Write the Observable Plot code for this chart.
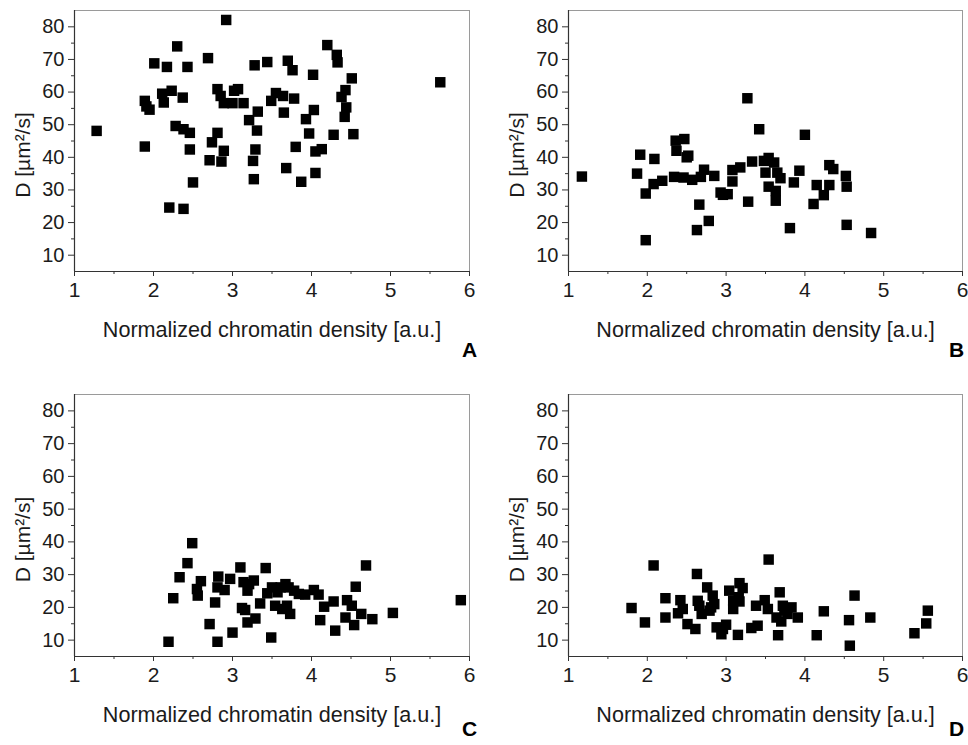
<!DOCTYPE html>
<html><head><meta charset="utf-8">
<script src="https://cdn.jsdelivr.net/npm/d3@7"></script>
<script src="https://cdn.jsdelivr.net/npm/@observablehq/plot@0.6"></script>
<style>
html,body{margin:0;padding:0;background:#fff;overflow:hidden;}
#fig{position:relative;width:968px;height:745px;overflow:hidden;background:#fff;}
.panel{position:absolute;}
</style></head><body><div id="fig"></div>
<script>
// [normalized chromatin density, D (µm²/s)]
const panelA = [
[1.28,48.1],[2.92,82.1],[2.30,74.0],[2.69,70.4],[2.01,68.8],[2.17,67.7],[2.43,67.7],
[1.89,57.3],[1.91,55.6],[1.95,54.6],[1.89,43.3],
[2.11,59.5],[2.13,56.8],[2.23,60.4],[2.37,58.3],
[2.28,49.6],[2.38,48.6],[2.46,47.5],[2.46,42.4],[2.50,32.3],[2.20,24.6],[2.38,24.2],
[2.81,60.9],[2.85,58.8],[2.89,56.6],[3.00,56.6],[3.02,60.4],[3.07,60.9],[3.14,56.6],
[2.71,39.1],[2.74,44.6],[2.81,47.5],[2.89,42.0],[2.86,38.7],
[3.21,51.4],[3.32,54.0],[3.31,48.2],[3.29,42.4],[3.26,38.9],[3.27,33.3],
[3.28,68.2],[3.44,69.2],[3.49,57.3],[3.55,59.7],[3.64,58.8],[3.65,53.7],[3.78,58.0],
[3.70,69.6],[3.76,66.7],[3.68,36.7],[3.80,43.2],[3.87,32.5],
[3.93,51.7],[3.97,47.3],[4.03,54.5],[4.02,65.3],[4.05,41.8],[4.13,42.5],[4.05,35.2],
[4.20,74.4],[4.32,71.4],[4.33,69.1],[4.28,46.9],
[4.51,64.2],[4.43,60.6],[4.38,58.5],[4.44,55.3],[4.42,52.4],[4.53,47.1],
[5.63,63.0]
];
const panelB = [
[1.17,34.1],[1.87,35.0],[1.91,40.8],[1.98,28.9],[1.98,14.6],[2.09,39.5],[2.08,31.8],[2.19,32.8],
[2.34,34.0],[2.46,33.8],[2.57,33.1],[2.68,34.0],[2.72,36.2],[2.85,34.3],
[2.36,45.1],[2.47,45.6],[2.37,42.0],[2.52,40.5],[2.50,40.0],
[2.66,25.5],[2.78,20.5],[2.63,17.7],
[2.93,29.2],[3.02,28.7],[2.96,28.5],[3.08,36.1],[3.18,36.9],[3.08,32.6],[3.28,26.4],[3.27,58.1],[3.42,48.6],[3.33,38.7],
[3.48,38.9],[3.54,39.8],[3.61,38.4],[3.50,35.3],[3.65,35.3],[3.69,33.6],[3.54,31.0],[3.63,29.7],[3.63,26.7],
[4.00,46.9],[3.93,35.9],[3.86,32.3],[3.81,18.3],
[4.31,37.6],[4.36,36.4],[4.15,31.5],[4.31,31.5],[4.24,28.4],[4.11,25.7],[4.52,34.3],[4.53,31.0],[4.53,19.3],[4.84,16.8]
];
const panelC = [
[2.19,9.5],[2.25,22.8],[2.33,29.2],[2.43,33.5],[2.49,39.6],[2.55,25.6],[2.56,23.6],[2.60,28.0],
[2.71,14.9],[2.78,21.5],[2.81,26.1],[2.82,29.4],[2.90,25.3],[2.97,28.7],[2.81,9.5],[3.00,12.3],
[3.10,32.2],[3.14,27.7],[3.21,27.1],[3.19,25.1],[3.27,28.2],[3.12,19.8],[3.16,19.2],[3.19,15.4],
[3.29,16.6],[3.35,21.2],[3.42,32.0],[3.44,24.3],[3.50,26.1],[3.57,24.6],[3.61,26.1],[3.49,10.8],
[3.54,20.5],[3.63,19.5],[3.67,27.1],[3.71,26.1],[3.78,25.1],[3.69,20.5],[3.73,18.0],
[3.84,24.1],[3.92,23.9],[4.03,25.3],[4.09,23.9],[4.16,20.2],[4.11,16.1],[4.28,21.8],[4.30,12.9],
[4.45,22.2],[4.51,20.5],[4.43,16.9],[4.54,14.6],[4.56,26.3],[4.63,18.0],[4.69,32.8],[4.77,16.4],
[5.03,18.3],[5.89,22.2]
];
const panelD = [
[1.80,19.8],[1.97,15.4],[2.08,32.8],[2.23,22.8],[2.23,16.9],[2.42,22.2],[2.45,19.5],[2.39,18.2],
[2.51,14.9],[2.61,13.4],[2.63,30.2],[2.64,22.0],[2.66,20.5],[2.69,18.0],
[2.76,26.1],[2.83,23.6],[2.85,21.0],[2.79,19.0],[2.81,20.0],
[2.88,13.9],[2.96,13.4],[3.00,14.7],[2.94,11.8],
[3.04,25.1],[3.09,22.0],[3.16,23.1],[3.09,19.5],[3.17,27.4],[3.21,25.9],[3.15,11.6],[3.17,21.8],
[3.32,13.7],[3.40,14.4],[3.38,20.5],[3.49,22.2],[3.53,19.5],[3.54,34.6],[3.68,24.6],[3.66,11.5],
[3.64,16.9],[3.70,15.7],[3.74,19.0],[3.78,18.0],[3.83,20.0],[3.91,16.9],[3.72,20.5],
[4.15,11.5],[4.24,18.8],[4.56,16.1],[4.57,8.3],[4.63,23.6],[4.83,16.9],[5.39,12.1],[5.54,15.1],[5.56,19.0]
];

const xDomain = [1, 6];
const yDomain = [5, 85];
const xTicks = [1, 2, 3, 4, 5, 6];
const xMinor = [1.5, 2.5, 3.5, 4.5, 5.5];
const yTicks = [10, 20, 30, 40, 50, 60, 70, 80];
const yMinor = [15, 25, 35, 45, 55, 65, 75];
const xTitle = "Normalized chromatin density [a.u.]";
const yTitle = "D [µm²/s]";
const letters = ["A", "B", "C", "D"];

const layouts = [
  {left: 0,   top: 0,   width: 484, height: 372, ml: 74, mr: 15, mt: 10, mb: 101, ldx: 0,  ldy: 79},
  {left: 484, top: 0,   width: 484, height: 372, ml: 84, mr: 6,  mt: 10, mb: 101, ldx: -6, ldy: 79},
  {left: 0,   top: 372, width: 484, height: 373, ml: 74, mr: 15, mt: 22, mb: 89,  ldx: 0,  ldy: 73},
  {left: 484, top: 372, width: 484, height: 373, ml: 84, mr: 6,  mt: 22, mb: 89,  ldx: -6, ldy: 73}
];
const datasets = [panelA, panelB, panelC, panelD];
const ink = "#1b1b1b";

const fig = document.getElementById("fig");
datasets.forEach((data, i) => {
  const L = layouts[i];
  const chart = Plot.plot({
    width: L.width, height: L.height,
    marginLeft: L.ml, marginRight: L.mr, marginTop: L.mt, marginBottom: L.mb,
    style: {fontFamily: "'Liberation Sans', Arial, sans-serif", fontSize: "20px", color: ink, background: "#fff"},
    x: {domain: xDomain, axis: null},
    y: {domain: yDomain, axis: null},
    marks: [
      Plot.frame({stroke: "#9a9a9a", strokeWidth: 1}),
      Plot.ruleX([1], {stroke: "#333", strokeWidth: 1.2}),
      Plot.ruleY([5], {stroke: "#333", strokeWidth: 1.2}),
      Plot.axisX(xTicks, {tickSize: 5, tickPadding: 6, fontSize: 21, stroke: "#333", fill: ink, label: null, tickFormat: d => String(d)}),
      Plot.axisX(xMinor, {tickSize: 3, stroke: "#333", label: null, tickFormat: () => ""}),
      Plot.axisY(yTicks, {tickSize: 6, tickPadding: 4, fontSize: 20, stroke: "#333", fill: ink, label: null, tickFormat: d => String(d)}),
      Plot.axisY(yMinor, {tickSize: 3, stroke: "#333", label: null, tickFormat: () => ""}),
      Plot.dot(data, {x: d => d[0], y: d => d[1], symbol: "square", r: 5.9, fill: "#000", stroke: null}),
      Plot.text([xTitle], {text: d => d, frameAnchor: "bottom", dy: 59, lineAnchor: "middle", textAnchor: "middle", fontSize: 21.6, fill: ink}),
      Plot.text([yTitle], {text: d => d, frameAnchor: "left", rotate: -90, dx: -51, dy: 14, lineAnchor: "middle", textAnchor: "middle", fontSize: 21, fill: ink}),
      Plot.text([letters[i]], {text: d => d, frameAnchor: "bottom-right", dy: L.ldy, dx: L.ldx, lineAnchor: "middle", textAnchor: "middle", fontSize: 21, fontWeight: "bold", fill: "#000"})
    ]
  });
  const div = document.createElement("div");
  div.className = "panel";
  div.style.left = L.left + "px";
  div.style.top = L.top + "px";
  div.style.width = L.width + "px";
  div.style.height = L.height + "px";
  div.appendChild(chart);
  fig.appendChild(div);
});
</script>
</body></html>
